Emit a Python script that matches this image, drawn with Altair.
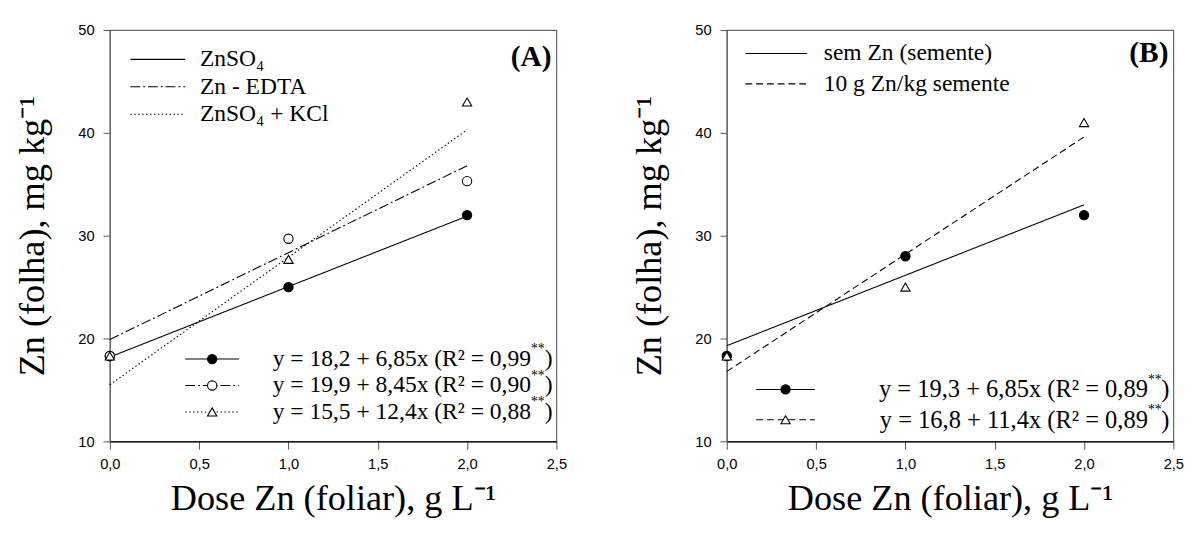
import altair as alt
import pandas as pd

# ---------------- data ----------------
dose = [0.0, 1.0, 2.0]

a_names = ["ZnSO₄", "Zn - EDTA", "ZnSO₄ + KCl"]
a_znso4 = [18.3, 25.0, 32.0]
a_edta = [18.3, 29.7, 35.3]
a_kcl = [18.3, 27.7, 43.0]
a_intercept = [18.2, 19.9, 15.5]
a_slope = [6.85, 8.45, 12.4]
a_r2 = ["0,99", "0,90", "0,88"]

b_names = ["sem Zn (semente)", "10 g Zn/kg semente"]
b_sem = [18.3, 28.0, 32.0]
b_10g = [18.3, 25.0, 41.0]
b_intercept = [19.3, 16.8]
b_slope = [6.85, 11.4]
b_r2 = ["0,89", "0,89"]

x_ticks = [0.0, 0.5, 1.0, 1.5, 2.0, 2.5]
y_ticks = [10, 20, 30, 40, 50]

W, H = 456, 420
SERIF = "Liberation Serif"
SANS = "Liberation Sans"


def num(v):
    return str(v).replace(".", ",")


def eq_text(b0, b1, r2):
    return f"y = {num(b0)} + {num(b1)}x (R² = {r2}"


def one_row():
    return alt.Data(values=[{"k": 0}])


def axes():
    x = alt.X("x:Q", scale=alt.Scale(domain=[0, 2.5], nice=False, zero=False),
              axis=alt.Axis(values=x_ticks, labelExpr="replace(format(datum.value,'.1f'),'.',',')",
                            title="Dose Zn (foliar), g L⁻¹", tickSize=8, labelPadding=8,
                            titlePadding=10, domainColor="#000", labelFlush=False,
                            labelOverlap=False))
    y = alt.Y("y:Q", scale=alt.Scale(domain=[10, 50], nice=False, zero=False),
              axis=alt.Axis(values=y_ticks, title="Zn (folha), mg kg⁻¹", tickSize=7,
                            labelPadding=9, titleX=-60, domainColor="#666",
                            labelOverlap=False))
    return x, y


def panel(series_vals, names, intercepts, slopes, r2s, shapes, fills, dashes,
          tag, up, low):
    x, y = axes()
    layers = []
    # fitted lines
    for i, vals in enumerate(series_vals):
        fit = pd.DataFrame({"x": [dose[0], dose[-1]],
                            "y": [intercepts[i] + slopes[i] * dose[0],
                                  intercepts[i] + slopes[i] * dose[-1]]})
        layers.append(alt.Chart(fit).mark_line(color="black", strokeWidth=1.1,
                                               strokeDash=dashes[i]).encode(x=x, y=y))
    # observed points
    for i, vals in enumerate(series_vals):
        pts = pd.DataFrame({"x": dose, "y": vals})
        layers.append(alt.Chart(pts).mark_point(shape=shapes[i], size=90, stroke="black",
                                                strokeWidth=1.1, fill=fills[i], filled=False,
                                                opacity=1).encode(x=x, y=y))

    # upper legend (line styles)
    for i, name in enumerate(names):
        yy = up["y0"] + i * up["dy"]
        layers.append(alt.Chart(one_row()).mark_rule(color="black", strokeWidth=1.1,
                                                     strokeDash=dashes[i]).encode(
            x=alt.value(up["x1"]), x2=alt.value(up["x2"]), y=alt.value(yy)))
        layers.append(alt.Chart(one_row()).mark_text(text=name, font=SERIF, fontSize=up["fs"],
                                                     align="left", baseline="middle",
                                                     color="black").encode(
            x=alt.value(up["tx"]), y=alt.value(yy)))
    # panel tag
    layers.append(alt.Chart(one_row()).mark_text(text=tag, font=SERIF, fontSize=30,
                                                 fontWeight="bold", align="right",
                                                 baseline="middle", color="black").encode(
        x=alt.value(W - 5), y=alt.value(up["tagy"])))

    # lower legend (equations)
    fs = low["fs"]
    xr = W - 4
    for i, name in enumerate(names):
        yy = low["y0"] + i * low["dy"]
        layers.append(alt.Chart(one_row()).mark_rule(color="black", strokeWidth=1.1,
                                                     strokeDash=dashes[i]).encode(
            x=alt.value(low["x1"]), x2=alt.value(low["x2"]), y=alt.value(yy)))
        layers.append(alt.Chart(one_row()).mark_point(
            shape=shapes[i], size=90, stroke="black", strokeWidth=1.1, fill=fills[i],
            filled=False, opacity=1).encode(
            x=alt.value((low["x1"] + low["x2"]) / 2), y=alt.value(yy)))
        layers.append(alt.Chart(one_row()).mark_text(text=")", font=SERIF, fontSize=fs,
                                                     align="right", baseline="middle",
                                                     color="black").encode(
            x=alt.value(xr), y=alt.value(yy)))
        layers.append(alt.Chart(one_row()).mark_text(text="**", font=SERIF, fontSize=14,
                                                     align="right", baseline="middle",
                                                     color="black").encode(
            x=alt.value(xr - 8), y=alt.value(yy - 10)))
        layers.append(alt.Chart(one_row()).mark_text(
            text=eq_text(intercepts[i], slopes[i], r2s[i]), font=SERIF, fontSize=fs,
            align="right", baseline="middle", color="black").encode(
            x=alt.value(xr - 22), y=alt.value(yy)))

    return alt.layer(*layers).properties(width=W, height=H)


panel_a = panel([a_znso4, a_edta, a_kcl], a_names, a_intercept, a_slope, a_r2,
                ["circle", "circle", "triangle-up"], ["black", "white", "white"],
                [[1, 0], [10, 3, 2, 3], [1.5, 2.5]], "(A)",
                up=dict(y0=30, dy=28, x1=21, x2=77, tx=92, fs=24, tagy=28),
                low=dict(y0=336, dy=27, x1=77, x2=132, fs=24))

panel_b = panel([b_sem, b_10g], b_names, b_intercept, b_slope, b_r2,
                ["circle", "triangle-up"], ["black", "white"],
                [[1, 0], [7, 4]], "(B)",
                up=dict(y0=24, dy=31, x1=19, x2=82, tx=99, fs=24, tagy=24),
                low=dict(y0=367, dy=31, x1=30, x2=90, fs=25))

chart = alt.hconcat(panel_a, panel_b, spacing=63).properties(
    padding={"left": 5, "top": 9, "right": 5, "bottom": 5}
).configure_view(stroke="#666", strokeWidth=1.2).configure_axis(
    grid=False, labelFont=SANS, labelFontSize=15, labelColor="black",
    titleFont=SERIF, titleFontSize=37, titleFontWeight="normal", titleColor="black",
    tickColor="#555", domainWidth=1.2
)

chart.save("out.html", embed_options={"renderer": "svg", "actions": False})
